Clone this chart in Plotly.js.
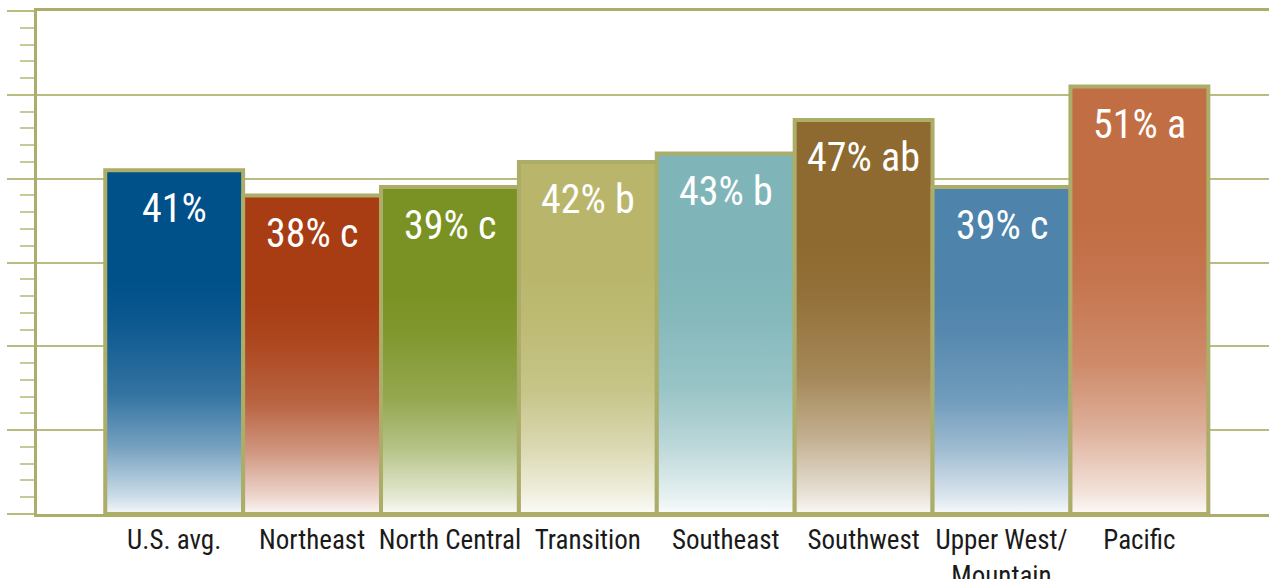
<!DOCTYPE html>
<html>
<head>
<meta charset="utf-8">
<script src="https://cdn.plot.ly/plotly-3.0.1.min.js"></script>
<style>
  html, body { margin: 0; padding: 0; background: #fff; }
  #chart { width: 1269px; height: 579px; }
</style>
</head>
<body>
<div id="chart"></div>
<script>
// regions and share (%) with significance letters
var regions = ['U.S. avg.', 'Northeast', 'North Central', 'Transition', 'Southeast', 'Southwest', 'Upper West/<br>Mountain', 'Pacific'];
var shares = [41, 38, 39, 42, 43, 47, 39, 51];
var letters = ['', 'c', 'c', 'b', 'b', 'ab', 'c', 'a'];
var barColors = ['#00508a', '#a83c12', '#7a9224', '#b9b66c', '#7fb5b8', '#8e6a30', '#4e83ab', '#c26e45'];

var olive = '#abad68';
var font = '"Roboto Condensed", "Roboto", sans-serif';

// mix a hex colour with white, t = amount of white
function tint(hex, t) {
    var r = parseInt(hex.substr(1, 2), 16), g = parseInt(hex.substr(3, 2), 16), b = parseInt(hex.substr(5, 2), 16);
    r = Math.round(r + (255 - r) * t); g = Math.round(g + (255 - g) * t); b = Math.round(b + (255 - b) * t);
    return 'rgb(' + r + ',' + g + ',' + b + ')';
}

var idx = regions.map(function (_, i) { return i; });
var data = [];

// each bar: a filled box with a vertical gradient (fades to white at the bottom) and olive outline
regions.forEach(function (r, i) {
    var c = barColors[i];
    data.push({
        type: 'scatter',
        x: [i - 0.5, i - 0.5, i + 0.5, i + 0.5, i - 0.5],
        y: [0, shares[i], shares[i], 0, 0],
        mode: 'lines',
        line: { color: olive, width: 4 },
        fill: 'toself',
        fillgradient: {
            type: 'vertical',
            colorscale: [[0, tint(c, 0.96)], [0.05, tint(c, 0.8)], [0.2, tint(c, 0.45)],
                         [0.35, tint(c, 0.2)], [0.55, tint(c, 0.05)], [0.68, c], [1, c]]
        },
        hoverinfo: 'skip',
        showlegend: false
    });
});

var annotations = shares.map(function (v, i) {
    return {
        x: i, y: v, xref: 'x', yref: 'y',
        text: v + '%' + (letters[i] ? ' ' + letters[i] : ''),
        showarrow: false,
        yshift: -38,
        font: { family: font, size: 40, color: '#ffffff' }
    };
});

var layout = {
    width: 1269,
    height: 579,
    margin: { l: 37, r: 0, t: 11, b: 65 },
    paper_bgcolor: '#ffffff',
    plot_bgcolor: '#ffffff',
    showlegend: false,
    xaxis: {
        type: 'linear',
        range: [-0.995, 7.94],
        tickvals: idx,
        ticktext: regions,
        tickangle: 0,
        ticks: '',
        showgrid: false,
        zeroline: false,
        showline: true,
        mirror: true,
        linecolor: olive,
        linewidth: 3,
        tickfont: { family: font, size: 27, color: '#1a1a1a' },
        fixedrange: true
    },
    yaxis: {
        range: [0, 60],
        dtick: 10,
        showticklabels: false,
        showgrid: true,
        gridcolor: '#b9bb80',
        gridwidth: 2,
        zeroline: false,
        showline: true,
        linecolor: olive,
        linewidth: 3,
        ticks: 'outside',
        ticklen: 27,
        tickwidth: 2,
        tickcolor: '#b9bb80',
        minor: { dtick: 2, ticks: 'outside', ticklen: 14, tickwidth: 2, tickcolor: '#c8c999' },
        fixedrange: true
    },
    annotations: annotations
};

var config = { displayModeBar: false, staticPlot: true };

Plotly.newPlot('chart', data, layout, config);
</script>
</body>
</html>
